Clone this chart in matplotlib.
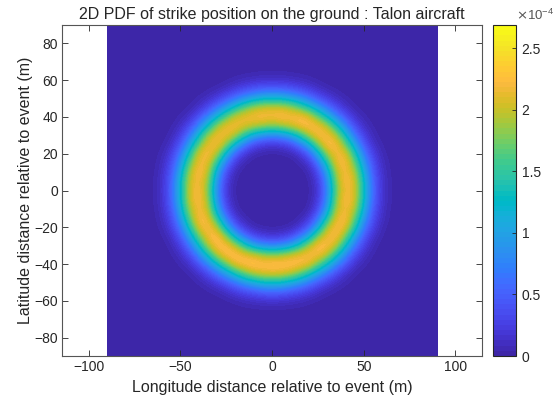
import matplotlib
matplotlib.use('Agg')
import matplotlib.pyplot as plt
from matplotlib.colors import ListedColormap
from matplotlib.patches import Rectangle
import numpy as np

plt.rcParams['font.family'] = ['Liberation Sans', 'DejaVu Sans']

title = '2D PDF of strike position on the ground : Talon aircraft'
xlabel = 'Longitude distance relative to event (m)'
ylabel = 'Latitude distance relative to event (m)'

# parula
parula = [
    [0.2422, 0.1504, 0.6603], [0.2504, 0.1650, 0.7076], [0.2578, 0.1818, 0.7511], [0.2647, 0.1978, 0.7952],
    [0.2706, 0.2147, 0.8364], [0.2751, 0.2342, 0.8710], [0.2783, 0.2559, 0.8991], [0.2803, 0.2782, 0.9221],
    [0.2813, 0.3006, 0.9414], [0.2810, 0.3228, 0.9579], [0.2795, 0.3447, 0.9717], [0.2760, 0.3667, 0.9829],
    [0.2699, 0.3892, 0.9906], [0.2602, 0.4123, 0.9952], [0.2440, 0.4358, 0.9988], [0.2206, 0.4603, 0.9973],
    [0.1963, 0.4847, 0.9892], [0.1834, 0.5074, 0.9798], [0.1786, 0.5289, 0.9682], [0.1764, 0.5499, 0.9520],
    [0.1687, 0.5703, 0.9359], [0.1540, 0.5902, 0.9218], [0.1460, 0.6091, 0.9079], [0.1380, 0.6276, 0.8973],
    [0.1248, 0.6459, 0.8883], [0.1113, 0.6635, 0.8763], [0.0952, 0.6798, 0.8598], [0.0689, 0.6948, 0.8394],
    [0.0297, 0.7082, 0.8163], [0.0036, 0.7203, 0.7917], [0.0067, 0.7312, 0.7660], [0.0433, 0.7411, 0.7394],
    [0.0964, 0.7500, 0.7120], [0.1408, 0.7584, 0.6842], [0.1717, 0.7670, 0.6554], [0.1938, 0.7758, 0.6251],
    [0.2161, 0.7843, 0.5923], [0.2470, 0.7918, 0.5567], [0.2906, 0.7973, 0.5188], [0.3406, 0.8008, 0.4789],
    [0.3909, 0.8029, 0.4354], [0.4456, 0.8024, 0.3909], [0.5044, 0.7993, 0.3480], [0.5616, 0.7942, 0.3045],
    [0.6174, 0.7876, 0.2612], [0.6720, 0.7793, 0.2227], [0.7242, 0.7698, 0.1910], [0.7738, 0.7598, 0.1646],
    [0.8203, 0.7498, 0.1535], [0.8634, 0.7406, 0.1596], [0.9035, 0.7330, 0.1774], [0.9393, 0.7288, 0.2100],
    [0.9728, 0.7298, 0.2394], [0.9956, 0.7434, 0.2371], [0.9970, 0.7659, 0.2199], [0.9952, 0.7893, 0.2028],
    [0.9892, 0.8136, 0.1885], [0.9786, 0.8386, 0.1766], [0.9676, 0.8639, 0.1643], [0.9610, 0.8890, 0.1537],
    [0.9597, 0.9135, 0.1423], [0.9628, 0.9373, 0.1265], [0.9691, 0.9606, 0.1064], [0.9769, 0.9839, 0.0805],
]

# density, in units of 1e-4, every 5 m from -65 to 65
# first row is the top of the image (+65 m), everything further out is 0
density = [
    [0, 0, 0, 0, 0, 0, 0, 0, 0, .01, .02, .02, .03, .03, .03, .02, .02, .01, 0, 0, 0, 0, 0, 0, 0, 0, 0],
    [0, 0, 0, 0, 0, 0, 0, .01, .03, .06, .09, .12, .14, .14, .14, .12, .09, .06, .03, .01, 0, 0, 0, 0, 0, 0, 0],
    [0, 0, 0, 0, 0, .01, .03, .07, .13, .24, .34, .43, .50, .52, .50, .43, .34, .24, .13, .07, .03, .01, 0, 0, 0, 0, 0],
    [0, 0, 0, 0, .01, .05, .12, .24, .43, .66, .90, 1.08, 1.22, 1.25, 1.22, 1.08, .90, .66, .43, .24, .12, .05, .01, 0, 0, 0, 0],
    [0, 0, 0, .01, .05, .14, .34, .65, 1.00, 1.40, 1.70, 1.95, 2.05, 2.08, 2.05, 1.95, 1.70, 1.40, 1.00, .65, .34, .14, .05, .01, 0, 0, 0],
    [0, 0, .01, .05, .14, .40, .78, 1.25, 1.72, 2.05, 2.18, 2.22, 2.26, 2.20, 2.30, 2.22, 2.28, 2.12, 1.72, 1.25, .78, .40, .14, .05, .01, 0, 0],
    [0, 0, .03, .12, .34, .78, 1.32, 1.90, 2.18, 2.22, 2.08, 1.98, 1.88, 1.80, 1.88, 2.02, 2.20, 2.30, 2.22, 1.95, 1.35, .78, .34, .12, .03, 0, 0],
    [0, .01, .07, .24, .65, 1.25, 1.92, 2.20, 2.18, 1.95, 1.45, 1.05, .85, .78, .85, 1.05, 1.45, 1.95, 2.26, 2.22, 1.95, 1.25, .65, .24, .07, .01, 0],
    [0, .03, .13, .43, 1.00, 1.72, 2.16, 2.22, 1.85, 1.12, .65, .33, .22, .18, .22, .33, .65, 1.12, 1.85, 2.30, 2.22, 1.72, 1.00, .43, .13, .03, 0],
    [.01, .06, .24, .66, 1.40, 2.10, 2.26, 1.95, 1.12, .50, .18, .06, .03, .02, .03, .06, .18, .50, 1.12, 1.95, 2.22, 2.12, 1.40, .66, .24, .06, .01],
    [.02, .09, .34, .90, 1.70, 2.20, 2.15, 1.45, .65, .18, .04, .01, 0, 0, 0, .01, .04, .18, .65, 1.45, 2.20, 2.24, 1.70, .90, .34, .09, .02],
    [.02, .12, .43, 1.08, 1.95, 2.30, 2.00, 1.05, .33, .06, .01, 0, 0, 0, 0, 0, .01, .06, .33, 1.05, 2.00, 2.22, 1.95, 1.08, .43, .12, .02],
    [.03, .14, .50, 1.22, 2.05, 2.22, 1.88, .85, .22, .03, 0, 0, 0, 0, 0, 0, 0, .03, .22, .85, 1.88, 2.30, 2.05, 1.22, .50, .14, .03],
    [.03, .14, .52, 1.25, 2.08, 2.28, 1.80, .78, .18, .02, 0, 0, 0, 0, 0, 0, 0, .02, .18, .78, 1.80, 2.22, 2.08, 1.25, .52, .14, .03],
    [.03, .14, .50, 1.22, 2.05, 2.30, 1.88, .85, .22, .03, 0, 0, 0, 0, 0, 0, 0, .03, .22, .85, 1.88, 2.32, 2.05, 1.22, .50, .14, .03],
    [.02, .12, .43, 1.08, 1.95, 2.22, 2.00, 1.05, .33, .06, .01, 0, 0, 0, 0, 0, .01, .06, .33, 1.05, 2.00, 2.20, 1.95, 1.08, .43, .12, .02],
    [.02, .09, .34, .90, 1.70, 2.30, 2.15, 1.45, .65, .18, .04, .01, 0, 0, 0, .01, .04, .18, .65, 1.45, 2.15, 2.28, 1.70, .90, .34, .09, .02],
    [.01, .06, .24, .66, 1.40, 2.12, 2.30, 1.95, 1.12, .50, .18, .06, .03, .02, .03, .06, .18, .50, 1.12, 1.95, 2.30, 2.12, 1.40, .66, .24, .06, .01],
    [0, .03, .13, .43, 1.00, 1.72, 2.22, 2.30, 1.85, 1.12, .65, .33, .22, .18, .22, .33, .65, 1.12, 1.85, 2.22, 2.26, 1.72, 1.00, .43, .13, .03, 0],
    [0, .01, .07, .24, .65, 1.25, 1.95, 2.30, 2.26, 1.95, 1.45, 1.05, .85, .78, .85, 1.05, 1.45, 1.95, 2.30, 2.26, 1.95, 1.25, .65, .24, .07, .01, 0],
    [0, 0, .03, .12, .34, .78, 1.35, 1.98, 2.30, 2.32, 2.18, 2.05, 1.92, 1.85, 1.92, 2.05, 2.18, 2.26, 2.22, 1.95, 1.35, .78, .34, .12, .03, 0, 0],
    [0, 0, .01, .05, .14, .40, .78, 1.25, 1.76, 2.18, 2.30, 2.36, 2.28, 2.34, 2.30, 2.32, 2.26, 2.16, 1.72, 1.25, .78, .40, .14, .05, .01, 0, 0],
    [0, 0, 0, .01, .05, .14, .34, .65, 1.00, 1.40, 1.74, 2.00, 2.10, 2.14, 2.10, 2.00, 1.74, 1.40, 1.00, .65, .34, .14, .05, .01, 0, 0, 0],
    [0, 0, 0, 0, .01, .05, .12, .24, .43, .66, .92, 1.10, 1.26, 1.30, 1.26, 1.10, .92, .66, .43, .24, .12, .05, .01, 0, 0, 0, 0],
    [0, 0, 0, 0, 0, .01, .03, .07, .13, .24, .34, .43, .52, .55, .52, .43, .34, .24, .13, .07, .03, .01, 0, 0, 0, 0, 0],
    [0, 0, 0, 0, 0, 0, 0, .01, .03, .06, .09, .12, .14, .15, .14, .12, .09, .06, .03, .01, 0, 0, 0, 0, 0, 0, 0],
    [0, 0, 0, 0, 0, 0, 0, 0, 0, .01, .02, .02, .03, .03, .03, .02, .02, .01, 0, 0, 0, 0, 0, 0, 0, 0, 0],
]
grid_half = 65
grid_step = 5
field_half = 90
clim_top = 2.69

xticks = [-100, -50, 0, 50, 100]
yticks = [-80, -60, -40, -20, 0, 20, 40, 60, 80]
cticks = [0, 0.5, 1, 1.5, 2, 2.5]
cticklabels = ['0', '0.5', '1', '1.5', '2', '2.5']

ink = '#262626'
cmap = ListedColormap(parula)

fig = plt.figure(figsize=(5.56, 4.05), dpi=100)
W, H = 556.0, 405.0
ax = fig.add_axes([62 / W, 1 - 356 / H, 420 / W, 331 / H])
cax = fig.add_axes([493 / W, 1 - 356 / H, 23 / W, 331 / H])

# field is all zero outside the table
pad = (field_half - grid_half + grid_step) // grid_step
z = np.pad(np.array(density), pad)
half = grid_half + pad * grid_step + grid_step / 2.0
im = ax.imshow(z, extent=[-half, half, -half, half], origin='upper', cmap=cmap,
               vmin=0, vmax=clim_top, aspect='auto', interpolation='bicubic')
im.set_clip_path(Rectangle((-field_half, -field_half), 2 * field_half, 2 * field_half,
                           transform=ax.transData))
ax.set_xlim(-114.5, 114.5)
ax.set_ylim(-90, 90)
ax.set_xticks(xticks)
ax.set_yticks(yticks)
ax.tick_params(direction='in', length=4, width=0.6, color=ink, labelcolor=ink,
               labelsize=10, top=True, right=True, pad=3)
for s in ax.spines.values():
    s.set_linewidth(0.8)
    s.set_color('#555555')
ax.set_xlabel(xlabel, fontsize=11.5, color=ink, labelpad=4)
ax.set_ylabel(ylabel, fontsize=11.5, color=ink, labelpad=1)
ax.set_title(title, fontsize=11.5, color=ink, pad=4)

cb = fig.colorbar(im, cax=cax)
cb.set_ticks(cticks)
cb.set_ticklabels(cticklabels)
cax.tick_params(direction='in', length=3, width=0.6, color=ink, labelcolor=ink,
                labelsize=10, pad=4)
cb.outline.set_linewidth(0.8)
cb.outline.set_edgecolor(ink)
cax.text(0.98, 1.005, r'$\times\mathregular{10^{-4}}$', transform=cax.transAxes,
         fontsize=9.5, color='#555555', ha='left', va='bottom')

fig.savefig('out.png', dpi=100)
